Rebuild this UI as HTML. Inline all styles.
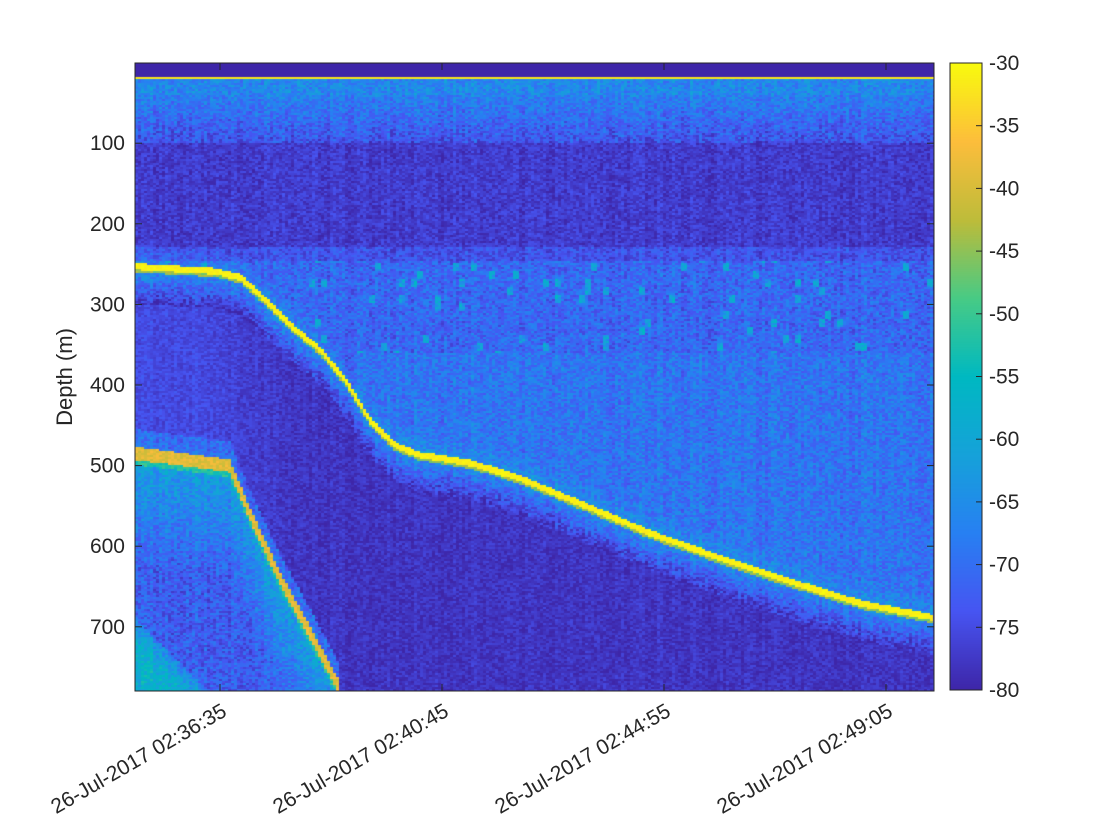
<!DOCTYPE html>
<html><head><meta charset="utf-8"><style>
body{margin:0;background:#fff;width:1120px;height:840px;overflow:hidden;position:relative;font-family:"Liberation Sans",sans-serif}
canvas{position:absolute}
svg{position:absolute;left:0;top:0}
</style></head><body>
<canvas id="echo" width="799" height="628" style="left:135px;top:63px"></canvas>
<canvas id="cbar" width="32" height="627" style="left:950px;top:63px"></canvas>
<svg id="ax" width="1120" height="840"></svg>
<script>
// Data: seafloor track (time s after 02:36:35, depth m)
const bottomT = [-96,-6,23,51,79,113,141,169,197,225,282,338,405,484,563,642,721,804];
const bottomD = [249,255,263,291,322,353,391,441,471,483,493,512,543,580,611,640,667,685];
const echo2T = [-96,10,33,67,100,135];
const echo2D = [485,500,560,640,706,778];
const yTicks = [100,200,300,400,500,600,700];
const xTickT = [0,250,500,750];
const xTickLabels = ["26-Jul-2017 02:36:35","26-Jul-2017 02:40:45","26-Jul-2017 02:44:55","26-Jul-2017 02:49:05"];
const cTicks = [-30,-35,-40,-45,-50,-55,-60,-65,-70,-75,-80];

const X0=135,X1=934,Y0=63,Y1=691;
const pxPerS=222/250, xT0=220;
const xs=t=>xT0+t*pxPerS;
const ys=d=>62.6+d*0.806;
const tOf=x=>(x-xT0)/pxPerS;
const dOf=y=>(y-62.6)/0.806;
const cv=v=>Y0+(-30-v)/50*627;

const stops=[[0,62,38,168],[.125,71,85,242],[.25,40,128,243],[.375,22,162,218],[.5,0,185,194],[.625,72,203,134],[.75,190,188,58],[.875,253,190,60],[1,249,251,14]];
function cmap(v){let f=(v+80)/50;f=Math.max(0,Math.min(1,f));
 for(let i=1;i<stops.length;i++){if(f<=stops[i][0]){const a=stops[i-1],b=stops[i],u=(f-a[0])/(b[0]-a[0]);
 return [a[1]+(b[1]-a[1])*u,a[2]+(b[2]-a[2])*u,a[3]+(b[3]-a[3])*u];}}return [249,251,14];}
function interp(T,D,t){if(t<=T[0])return D[0];for(let i=1;i<T.length;i++)if(t<=T[i]){const u=(t-T[i-1])/(T[i]-T[i-1]);return D[i-1]+(D[i]-D[i-1])*u;}return null;}
function hash(a,b){let h=a*374761393+b*668265263;h=(h^(h>>13))*1274126177;h=h^(h>>16);return ((h>>>0)%10000)/10000;}

const ctx=document.getElementById('echo').getContext('2d');
const CW=3,CH=2;
for(let i=0;i*CW<799;i++){
 const t=tOf(X0+i*CW+1);
 const b=interp(bottomT,bottomD,t);
 const b2=t<=echo2T[echo2T.length-1]?interp(echo2T,echo2D,t):null;
 const colN=(hash(i,7)-0.5)*3;
 const leftLift=3*Math.max(0,Math.min(1,(80-t)/100));
 for(let j=0;j*CH<628;j++){
  const d=dOf(Y0+j*CH+1);
  const n=(hash(i,j)-0.5)*9+colN;
  let v;
  if(d<17) v=-80;
  else if(d<20.5) v=-32;
  else if(d<b){
   if(d<40) v=-66+n;
   else if(d<100) v=-67-(d-40)/60*7+n;
   else if(d<230) v=-77+n*0.6;
   else if(d<245) v=-74+n*0.8;
   else if(d<360) v=-71+n+(hash(i>>1,j>>2)>0.96?10:0);
   else v=(t>150?-69:-72)+n;
   if(b-d<25) v+= (25-(b-d))/25*4;
  } else {
   const s=d-b;
   if(s<8) v=-31+(hash(i,j)-0.5)*2;
   else if(s<11) v=-45+n*0.5;
   else if(s<50) v=-66-(s-11)/40*12+n;
   else v=-78+leftLift+n*0.5;
   if(b2!==null){
    const s2=d-b2;
    if(s2>=-8&&s2<8) v=-39+(hash(i,j)-0.5)*5;
    else if(s2>=8&&s2<14) v=-52+n*0.6;
    else if(s2>0){
     let w=-61-Math.min(s2,140)*0.08+n;
     const cd=d-(690+(t+96)*1.1);
     if(cd>0) w=Math.max(w,-66+Math.min(cd,30)/30*8+n);
     v=Math.max(v,w);
    }
    else if(s2>-30) v=Math.max(v,-70+n);
   }
  }
  if(d>=17 && d<20.5) v=-32;
  v=Math.max(-80,Math.min(-30,v));
  const c=cmap(v);
  ctx.fillStyle=`rgb(${c[0]|0},${c[1]|0},${c[2]|0})`;
  ctx.fillRect(i*CW,j*CH,CW,CH);
 }
}
const cb=document.getElementById('cbar').getContext('2d');
for(let y=0;y<627;y++){const c=cmap(-30-y/627*50);cb.fillStyle=`rgb(${c[0]|0},${c[1]|0},${c[2]|0})`;cb.fillRect(0,y,32,1);}

const svg=document.getElementById('ax');const NS='http://www.w3.org/2000/svg';
function el(tag,attrs,txt){const e=document.createElementNS(NS,tag);for(const k in attrs)e.setAttribute(k,attrs[k]);if(txt!==undefined)e.textContent=txt;svg.appendChild(e);return e;}
let r=el('rect',{x:X0,y:Y0,width:X1-X0,height:Y1-Y0,fill:'none',stroke:'#262626','stroke-width':1});


r=el('rect',{x:950,y:63,width:32,height:627,fill:'none',stroke:'#262626','stroke-width':1});


yTicks.forEach(d=>{const y=ys(d);
 let l=el('line',{x1:X0,x2:X0+7,y1:y,y2:y,stroke:'#262626'});
 
 
 l=el('line',{x1:X1,x2:X1-7,y1:y,y2:y,stroke:'#262626'});
 
 
 const t=el('text',{x:X0-10,y:y+7,'text-anchor':'end','font-size':21,fill:'#262626'},String(d));
 
 
});
xTickT.forEach((tt,k)=>{const x=xs(tt);
 let l=el('line',{x1:x,x2:x,y1:Y1,y2:Y1-7,stroke:'#262626'});
 
 
 l=el('line',{x1:x,x2:x,y1:Y0,y2:Y0+7,stroke:'#262626'});
 
 
 const t=el('text',{x:x+8,y:Y1+24,'text-anchor':'end','font-size':21,fill:'#262626',transform:`rotate(-30 ${x+8} ${Y1+24})`},xTickLabels[k]);
 
 
});
cTicks.forEach(v=>{const y=cv(v);
 let l=el('line',{x1:982,x2:976,y1:y,y2:y,stroke:'#262626'});
 
 
 const t=el('text',{x:989,y:y+7,'font-size':21,fill:'#262626'},String(v));
 
 
});
const yl=el('text',{x:72,y:377,'text-anchor':'middle','font-size':22,fill:'#262626',transform:'rotate(-90 72 377)'},'Depth (m)');


</script>
</body></html>
